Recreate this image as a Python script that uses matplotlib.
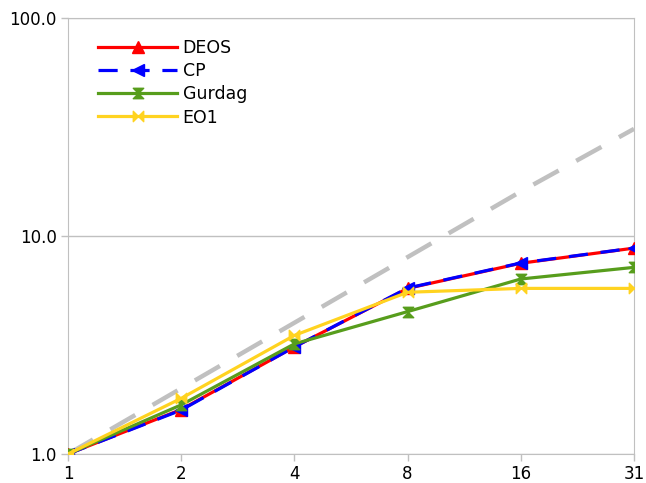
import numpy as np
import matplotlib
matplotlib.use('Agg')
import matplotlib.pyplot as plt
from matplotlib.path import Path

# Data
threads = ['1', '2', '4', '8', '16', '31']
ideal = [1, 2, 4, 8, 16, 31]
deos = [1.0, 1.60, 3.10, 5.75, 7.50, 8.80]
cp = [1.0, 1.59, 3.10, 5.77, 7.52, 8.81]
gurdag = [1.0, 1.68, 3.20, 4.50, 6.35, 7.18]
eo1 = [1.0, 1.80, 3.50, 5.52, 5.75, 5.75]

# Custom bowtie markers
hourglass = Path([(-1, 1), (1, 1), (0, 0), (1, -1), (-1, -1), (0, 0), (-1, 1)],
                 [Path.MOVETO] + [Path.LINETO] * 5 + [Path.CLOSEPOLY])
bowtie = Path([(-1, -1), (-1, 1), (0, 0), (1, 1), (1, -1), (0, 0), (-1, -1)],
              [Path.MOVETO] + [Path.LINETO] * 5 + [Path.CLOSEPOLY])

fig = plt.figure(figsize=(6.46, 4.83), dpi=100)
ax = fig.add_axes([68 / 646, 29 / 483, 566 / 646, 436 / 483])

x = np.arange(len(threads))
grid_c = '#c0c0c0'

ax.plot(x, ideal, color='#c0c0c0', lw=3.2, dashes=(6.5, 4.5), zorder=1)
ax.plot(x, deos, color='#ff0000', lw=2.3, marker='^', ms=9, label='DEOS', zorder=3)
ax.plot(x, cp, color='#0000ff', lw=2.3, dashes=(6, 4), marker='<', ms=9,
        label='CP', zorder=4)
ax.plot(x, gurdag, color='#579d1c', lw=2.3, marker=hourglass, ms=7.5,
        label='Gurdag', zorder=5)
ax.plot(x, eo1, color='#ffd320', lw=2.3, marker=bowtie, ms=7.5,
        label='EO1', zorder=6)

ax.set_yscale('log')
ax.set_ylim(1, 100)
ax.set_xlim(0, len(threads) - 1)
ax.set_xticks(x)
ax.set_xticklabels(threads)
ax.set_yticks([1, 10, 100])
ax.set_yticklabels(['1.0', '10.0', '100.0'])
ax.yaxis.set_minor_locator(matplotlib.ticker.NullLocator())
ax.grid(axis='y', color=grid_c, lw=1)
ax.set_axisbelow(True)

for s in ax.spines.values():
    s.set_color(grid_c)
ax.tick_params(axis='both', colors=grid_c, labelcolor='black', labelsize=12,
               length=5, width=1, pad=3)

ax.legend(loc='upper left', bbox_to_anchor=(0.04, 0.968), frameon=False,
          fontsize=12.5, handlelength=4.6, handletextpad=0.3, labelspacing=0.3,
          borderaxespad=0)

fig.savefig('out.png', dpi=100)
